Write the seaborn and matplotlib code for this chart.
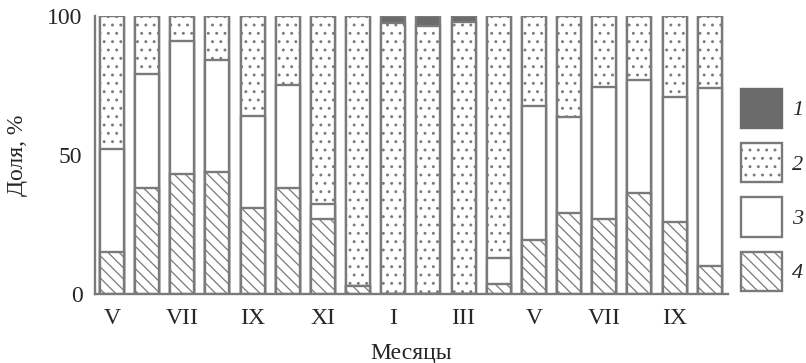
import matplotlib
matplotlib.use("Agg")
import matplotlib.pyplot as plt
from matplotlib.patches import Patch
import seaborn as sns
import numpy as np
import pandas as pd

# months along the x axis (18 bars, May .. October of next year)
months = ["V", "VI", "VII", "VIII", "IX", "X", "XI", "XII", "I",
          "II", "III", "IV", "V", "VI", "VII", "VIII", "IX", "X"]
# shares, %, bottom to top: 4 (hatched), 3 (white), 2 (dotted), 1 (dark)
share4 = [15, 38, 43, 44, 31, 38, 27, 3, 0, 0, 0, 3.5, 19.5, 29, 27, 36.5, 26, 10]
share3 = [37, 41, 48, 40, 33, 37, 5.5, 0, 0, 0, 0, 9.5, 48, 34.5, 47.5, 40.5, 45, 64]
share1 = [0, 0, 0, 0, 0, 0, 0, 0, 2.5, 3.5, 2, 0, 0, 0, 0, 0, 0, 0]
share2 = [100 - a - b - c for a, b, c in zip(share4, share3, share1)]
legend_labels = ["1", "2", "3", "4"]

sns.set_style("white")
plt.rcParams["font.family"] = ["Liberation Serif", "DejaVu Serif"]
plt.rcParams["hatch.linewidth"] = 0.9

EDGE = "#7a7a7a"
DARK = "#6b6b6b"
FS = 17

df = pd.DataFrame({
    "pos": np.arange(len(months)),
    "s4": share4, "s3": share3, "s2": share2, "s1": share1,
})
df["c4"] = df["s4"]
df["c3"] = df["c4"] + df["s3"]
df["c2"] = df["c3"] + df["s2"]
df["c1"] = df["c2"] + df["s1"]

fig = plt.figure(figsize=(8.06, 3.63), dpi=100)
ax = fig.add_axes([95 / 806, 69 / 363, (728 - 95) / 806, (294 - 16) / 363])

# draw the stack from the tallest layer down so each one covers the next
layers = [
    ("c1", DARK, None),
    ("c2", "white", ".."),
    ("c3", "white", None),
    ("c4", "white", "\\\\\\"),
]
for col, fill, hatch in layers:
    sns.barplot(data=df, x="pos", y=col, ax=ax, color=fill, saturation=1,
                width=0.68, edgecolor=EDGE, linewidth=1.7, hatch=hatch,
                errorbar=None)

ax.set_ylim(0, 100)
ax.set_xlim(-0.48, len(months) - 0.48)
ax.set_yticks([0, 50, 100])
ax.set_xticks(np.arange(0, len(months), 2))
ax.set_xticklabels(months[::2], fontsize=FS)
ax.set_xticks(np.arange(len(months)) + 0.5, minor=True)
ax.tick_params(axis="x", which="major", length=0, pad=10)
ax.tick_params(axis="x", which="minor", direction="in", length=3,
               width=1.2, color=EDGE)
ax.tick_params(axis="y", direction="in", length=3, width=1.2, color=EDGE,
               labelsize=FS, pad=9)

for side in ["top", "right"]:
    ax.spines[side].set_visible(False)
for side in ["left", "bottom"]:
    ax.spines[side].set_color(EDGE)
    ax.spines[side].set_linewidth(1.7)

ax.set_xlabel("Месяцы", fontsize=FS, labelpad=10)
ax.set_ylabel("Доля, %", fontsize=FS, labelpad=14)

handles = [
    Patch(facecolor=DARK, edgecolor=DARK, linewidth=1.7),
    Patch(facecolor="white", edgecolor=EDGE, linewidth=1.7, hatch=".."),
    Patch(facecolor="white", edgecolor=EDGE, linewidth=1.7),
    Patch(facecolor="white", edgecolor=EDGE, linewidth=1.7, hatch="\\\\\\"),
]
leg = fig.legend(handles, legend_labels, loc="upper left",
                 bbox_to_anchor=(741 / 806, 1 - 89 / 363), frameon=False,
                 handlelength=1.85, handleheight=2.33, labelspacing=0.68,
                 handletextpad=0.45, borderpad=0, borderaxespad=0,
                 prop={"size": 16, "style": "italic"})

fig.savefig("out.png", dpi=100)
